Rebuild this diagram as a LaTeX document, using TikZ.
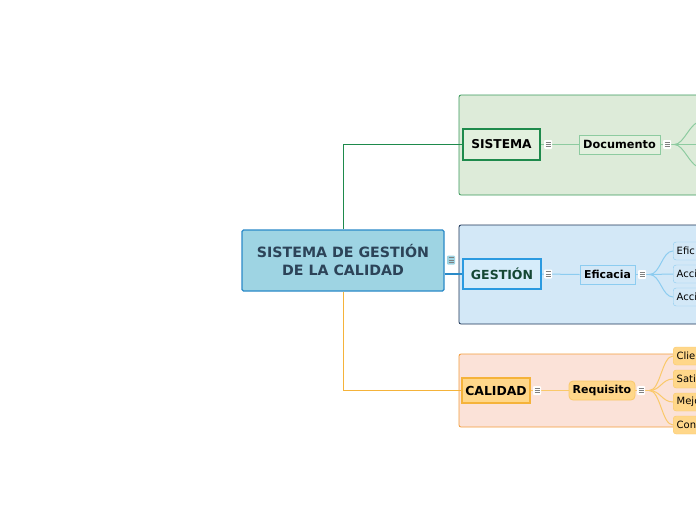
\documentclass[tikz,border=0pt]{standalone}
\usepackage{fontspec}
\setmainfont{DejaVu Sans}
\definecolor{cfill}{HTML}{9ED4E3}
\definecolor{cdraw}{HTML}{2A8AC8}
\definecolor{ctext}{HTML}{2C4358}
\definecolor{gframe}{HTML}{DDEBD9}
\definecolor{gframed}{HTML}{3A9A5B}
\definecolor{gdark}{HTML}{1E8A4C}
\definecolor{gfill}{HTML}{E2F0DE}
\definecolor{glight}{HTML}{8DCBA0}
\definecolor{bframe}{HTML}{D3E8F7}
\definecolor{bframed}{HTML}{1C3557}
\definecolor{bdark}{HTML}{2B9AE0}
\definecolor{bfill}{HTML}{D6ECFA}
\definecolor{blight}{HTML}{8CCCF0}
\definecolor{btext}{HTML}{154734}
\definecolor{oframe}{HTML}{FBE2D8}
\definecolor{oframed}{HTML}{F39C3C}
\definecolor{odark}{HTML}{F5B33A}
\definecolor{ofill}{HTML}{FFD78A}
\definecolor{olight}{HTML}{FAC96A}
\tikzset{
  base/.style={inner sep=0pt, align=center, font=\bfseries},
  leaf/.style={anchor=west, minimum height=18pt, rounded corners=3pt, inner xsep=3.5pt, inner ysep=0pt,
    text width=40pt, align=left, font=\fontsize{10}{12}\selectfont},
  ico/.pic={
    \fill[white, rounded corners=1pt] (-4,-4.5) rectangle (4,4.5);
    \draw[#1, line width=0.8pt] (-2.5,-2.2) -- (2.5,-2.2) (-2.5,0) -- (2.5,0) (-2.5,2.2) -- (2.5,2.2);
  },
  ico/.default=gray
}
\begin{document}
\begin{tikzpicture}[x=1pt, y=-1pt]
\useasboundingbox (0,0) rectangle (696,520);
\clip (0,0) rectangle (696,520);
\fill[white] (0,0) rectangle (696,520);
% frames
\draw[fill=gframe, draw=gframed, line width=0.8pt, rounded corners=2pt] (459,95) rectangle (720,195);
\draw[fill=bframe, draw=bframed, line width=0.8pt, rounded corners=2pt] (459,225) rectangle (720,324);
\draw[fill=oframe, draw=oframed, line width=0.8pt, rounded corners=2pt] (459,354) rectangle (720,427);
% central
\node[base, fill=cfill, draw=cdraw, line width=1.2pt, rounded corners=1.5pt, minimum width=202pt, minimum height=61pt,
  text=ctext, font=\fontsize{14.2}{18}\bfseries\selectfont] (c) at (343,260.5) {SISTEMA DE GESTIÓN\\DE LA CALIDAD};
% SISTEMA branch
\node[base, fill=gfill, draw=gdark, line width=2pt, minimum width=77pt, minimum height=31pt,
  font=\fontsize{12.2}{14}\bfseries\selectfont] (sis) at (501.5,144.5) {SISTEMA};
\node[base, fill=gfill, draw=glight, line width=0.8pt, minimum width=81pt, minimum height=19pt,
  font=\fontsize{11.3}{13}\bfseries\selectfont] (doc) at (619.5,144.5) {Documento};
\coordinate (d1) at (702,121);
\coordinate (d2) at (702,144.5);
\coordinate (d3) at (702,168);
% GESTION branch
\node[base, fill=bfill, draw=bdark, line width=2pt, minimum width=78pt, minimum height=30pt, text=btext,
  font=\fontsize{12.5}{14}\bfseries\selectfont] (ges) at (502,274) {GESTIÓN};
\node[base, fill=bframe, draw=blight, line width=0.8pt, minimum width=55pt, minimum height=19pt,
  font=\fontsize{10.9}{12}\bfseries\selectfont] (efi) at (607.5,274.5) {Eficacia};
\node[leaf, fill=bframe, draw=blight] (e1) at (673,251) {Efic};
\node[leaf, fill=bframe, draw=blight] (e2) at (673,274) {Acci};
\node[leaf, fill=bframe, draw=blight] (e3) at (673,297) {Acci};
% CALIDAD branch
\node[base, fill=ofill, draw=odark, line width=1.2pt, minimum width=68pt, minimum height=25pt,
  font=\fontsize{12.4}{14}\bfseries\selectfont] (cal) at (496,390.5) {CALIDAD};
\node[base, fill=ofill, draw=olight, line width=0.8pt, rounded corners=4pt, minimum width=66pt, minimum height=19pt,
  font=\fontsize{11}{12}\bfseries\selectfont] (req) at (602,390.5) {Requisito};
\node[leaf, fill=ofill, draw=olight] (r1) at (673,356) {Clie};
\node[leaf, fill=ofill, draw=olight] (r2) at (673,379) {Sati};
\node[leaf, fill=ofill, draw=olight] (r3) at (673,402) {Mejo};
\node[leaf, fill=ofill, draw=olight] (r4) at (673,425) {Con};
% connectors
\draw[gdark, line width=1pt] (c.north) |- (sis.west);
\draw[cdraw, line width=1.2pt] (c.east |- ges.west) -- (ges.west);
\draw[odark, line width=1pt] (c.south) |- (cal.west);
\draw[glight, line width=1pt] (sis.east) -- (doc.west);
\draw[blight, line width=1pt] (ges.east) -- (efi.west);
\draw[olight, line width=1pt] (cal.east) -- (req.west);
\draw[glight, line width=1pt] (doc.east) -- ++(14,0) coordinate (dj);
\foreach \t in {d1,d2,d3} \draw[glight, line width=1pt] (dj) .. controls ([xshift=10pt]dj) and ([xshift=-12pt]\t) .. (\t);
\draw[blight, line width=1pt] (efi.east) -- ++(14,0) coordinate (ej);
\foreach \t in {e1,e2,e3} \draw[blight, line width=1pt] (ej) .. controls ([xshift=11pt]ej) and ([xshift=-11pt]\t.west) .. (\t.west);
\draw[olight, line width=1pt] (req.east) -- ++(14,0) coordinate (rj);
\foreach \t in {r1,r2,r3,r4} \draw[olight, line width=1pt] (rj) .. controls ([xshift=11pt]rj) and ([xshift=-11pt]\t.west) .. (\t.west);
% collapse icons
\pic at (548,144.5) {ico=gray};
\pic at (667,144.5) {ico=gray};
\fill[cfill, rounded corners=1pt] (447,255.5) rectangle (455,264.5);
\draw[gray, line width=0.8pt] (448.5,257.8) -- (453.5,257.8) (448.5,260) -- (453.5,260) (448.5,262.2) -- (453.5,262.2);
\pic at (548,274) {ico=gray};
\pic at (642,274.5) {ico=gray};
\pic at (537,390.5) {ico=gray};
\pic at (641,390.5) {ico=gray};
\end{tikzpicture}
\end{document}
